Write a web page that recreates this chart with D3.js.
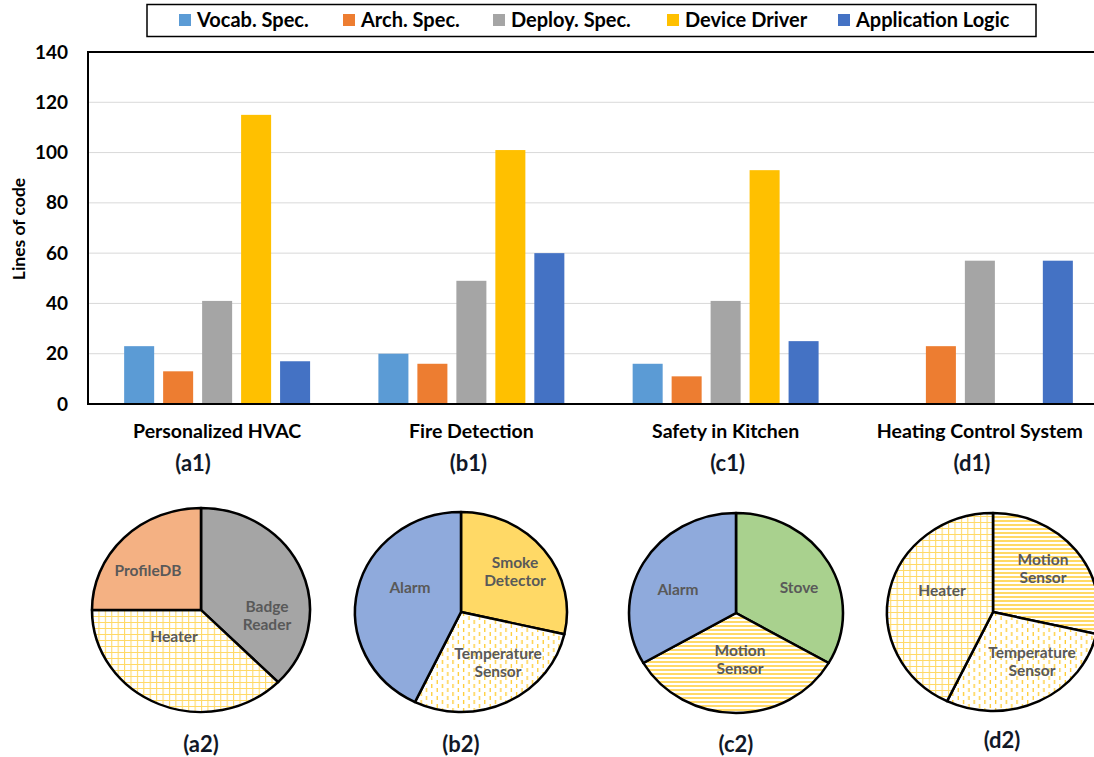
<!DOCTYPE html>
<html><head><meta charset="utf-8">
<script src="https://cdn.jsdelivr.net/npm/d3@7"></script>
<style>
html,body{margin:0;padding:0;background:#fff;}
svg{display:block;font-family:Lato,"Open Sans",sans-serif;}
</style></head>
<body>
<svg id="c" width="1094" height="757"></svg>
<script>
// ---- data ----
const categories = ["Personalized HVAC", "Fire Detection", "Safety in Kitchen", "Heating Control System"];
const categoryTags = ["(a1)", "(b1)", "(c1)", "(d1)"];
const seriesNames = ["Vocab. Spec.", "Arch. Spec.", "Deploy. Spec.", "Device Driver", "Application Logic"];
const vocabSpec = [23, 20, 16, 0];
const archSpec = [13, 16, 11, 23];
const deploySpec = [41, 49, 41, 57];
const deviceDriver = [115, 101, 93, 0];
const applicationLogic = [17, 60, 25, 57];
const yTicks = [0, 20, 40, 60, 80, 100, 120, 140];

const pieTags = ["(a2)", "(b2)", "(c2)", "(d2)"];
const pieA2Labels = ["Badge Reader", "Heater", "ProfileDB"];
const pieA2Values = [3, 3, 2];
const pieB2Labels = ["Smoke Detector", "Temperature Sensor", "Alarm"];
const pieB2Values = [2, 2, 3];
const pieC2Labels = ["Stove", "Motion Sensor", "Alarm"];
const pieC2Values = [1, 1, 1];
const pieD2Labels = ["Motion Sensor", "Temperature Sensor", "Heater"];
const pieD2Values = [2, 2, 3];

// ---- styles ----
const seriesColors = ["#5b9bd5", "#ed7d31", "#a5a5a5", "#ffc000", "#4472c4"];
const sliceFill = {
  "Badge Reader": "#a5a5a5", "ProfileDB": "#f4b183", "Heater": "url(#grid)",
  "Smoke Detector": "#ffd966", "Temperature Sensor": "url(#vdash)", "Alarm": "#8faadc",
  "Stove": "#a9d18e", "Motion Sensor": "url(#hstripe)"
};

const svg = d3.select("#c");
const defs = svg.append("defs");
const pg = defs.append("pattern").attr("id", "grid").attr("patternUnits", "userSpaceOnUse").attr("width", 6).attr("height", 6);
pg.append("rect").attr("width", 6).attr("height", 6).attr("fill", "#fff");
pg.append("path").attr("d", "M0 0.5H6M0.5 0V6").attr("stroke", "#ffd966").attr("stroke-width", 1);
const ph = defs.append("pattern").attr("id", "hstripe").attr("patternUnits", "userSpaceOnUse").attr("width", 4).attr("height", 4);
ph.append("rect").attr("width", 4).attr("height", 4).attr("fill", "#fff");
ph.append("rect").attr("width", 4).attr("height", 2).attr("fill", "#ffd966");
const pv = defs.append("pattern").attr("id", "vdash").attr("patternUnits", "userSpaceOnUse").attr("width", 10).attr("height", 8);
pv.append("rect").attr("width", 10).attr("height", 8).attr("fill", "#fff");
pv.append("path").attr("d", "M2.5 0V4M7.5 4V8").attr("stroke", "#ffc000").attr("stroke-width", 1);

// ---- bar chart ----
const plot = {left: 88, top: 52, bottom: 404, right: 1094};
const y = d3.scaleLinear().domain([0, 140]).range([plot.bottom, plot.top]);
const x0 = d3.scaleBand().domain(categories).range([90, 1107]).paddingInner(0).paddingOuter(0);
const x1 = d3.scaleBand().domain(seriesNames).range([0, x0.bandwidth()]).paddingInner(0.23).paddingOuter(0.876);

svg.append("g").selectAll("line").data(yTicks.filter(t => t > 0 && t < 140)).join("line")
  .attr("x1", plot.left).attr("x2", plot.right)
  .attr("y1", d => y(d)).attr("y2", d => y(d))
  .attr("stroke", "#d9d9d9").attr("stroke-width", 1);

const seriesData = [vocabSpec, archSpec, deploySpec, deviceDriver, applicationLogic];
const gBars = svg.append("g");
categories.forEach((cat, i) => {
  seriesNames.forEach((s, j) => {
    const v = seriesData[j][i];
    if (v <= 0) return;
    gBars.append("rect")
      .attr("x", x0(cat) + x1(s)).attr("width", x1.bandwidth())
      .attr("y", y(v)).attr("height", y(0) - y(v))
      .attr("fill", seriesColors[j]);
  });
});

svg.append("path").attr("d", `M${plot.right},${plot.top}H${plot.left}V${plot.bottom}H${plot.right}`)
  .attr("fill", "none").attr("stroke", "#000").attr("stroke-width", 2);

const yAxis = d3.axisLeft(y).tickValues(yTicks).tickSize(0).tickPadding(20);
const ya = svg.append("g").attr("transform", `translate(${plot.left},0)`).call(yAxis);
ya.select(".domain").remove();
ya.selectAll("text").attr("font-size", 19).attr("font-weight", "bold").attr("fill", "#000")
  .attr("font-family", "Lato, sans-serif");

svg.append("text").attr("transform", "translate(25,229) rotate(-90)")
  .attr("text-anchor", "middle").attr("font-size", 17.5).attr("font-weight", "bold").text("Lines of code");

const xAxis = d3.axisBottom(x0).tickSize(0).tickPadding(20);
const xa = svg.append("g").attr("transform", `translate(0,${plot.bottom})`).call(xAxis);
xa.select(".domain").remove();
xa.selectAll("text").attr("font-size", 19.5).attr("font-weight", "bold").attr("fill", "#000")
  .attr("font-family", "Lato, sans-serif");
const tagShift = [-24, -3, 2, -8];
svg.append("g").selectAll("text").data(categories).join("text")
  .attr("x", (d, i) => x0(d) + x0.bandwidth() / 2 + tagShift[i]).attr("y", 471)
  .attr("text-anchor", "middle").attr("font-size", 22).attr("font-weight", "bold").attr("fill", "#111827")
  .text((d, i) => categoryTags[i]);

// legend
const lg = svg.append("g");
lg.append("rect").attr("x", 147).attr("y", 4.5).attr("width", 889).attr("height", 32)
  .attr("fill", "#fff").attr("stroke", "#000").attr("stroke-width", 1.5);
const legendX = [179, 343, 493, 667, 838];
seriesNames.forEach((s, j) => {
  lg.append("rect").attr("x", legendX[j]).attr("y", 14).attr("width", 12).attr("height", 12).attr("fill", seriesColors[j]);
  lg.append("text").attr("x", legendX[j] + 18).attr("y", 27).attr("font-size", 20).attr("font-weight", "bold").text(s);
});

// ---- pies ----
const pies = [
  {labels: pieA2Labels, values: pieA2Values, cx: 201, cy: 610, rx: 109, ry: 102,
   lab: [[66, 6, 18], [-27, 27], [-53, -39]], tag: [201, 752]},
  {labels: pieB2Labels, values: pieB2Values, cx: 461, cy: 612, rx: 106, ry: 100,
   lab: [[54, -40, 18], [37, 51, 18], [-51, -24]], tag: [461, 752]},
  {labels: pieC2Labels, values: pieC2Values, cx: 736, cy: 613, rx: 107, ry: 100,
   lab: [[63, -25], [4, 47, 18], [-58, -23]], tag: [736, 752]},
  {labels: pieD2Labels, values: pieD2Values, cx: 993, cy: 612, rx: 106, ry: 99,
   lab: [[50, -43, 18], [39, 50, 18], [-51, -21]], tag: [1002, 748]}
];
const pieGen = d3.pie().sort(null).value(d => d);
pies.forEach((p, k) => {
  const g = svg.append("g").attr("transform", `translate(${p.cx},${p.cy}) scale(${p.rx / p.ry},1)`);
  const arc = d3.arc().innerRadius(0).outerRadius(p.ry);
  g.selectAll("path").data(pieGen(p.values)).join("path")
    .attr("d", arc).attr("fill", (d, i) => sliceFill[p.labels[i]])
    .attr("stroke", "#000").attr("stroke-width", 2.4).attr("stroke-linejoin", "round");
  p.labels.forEach((lab, i) => {
    const pos = p.lab[i];
    const words = lab.split(" ");
    const lines = pos.length > 2 ? words : [lab];
    const gap = pos[2] || 0;
    lines.forEach((w, li) => {
      svg.append("text").attr("x", p.cx + pos[0]).attr("y", p.cy + pos[1] + 5 + (li - (lines.length - 1) / 2) * gap)
        .attr("text-anchor", "middle").attr("font-size", 15.5).attr("font-weight", "bold").attr("fill", "#595959")
        .text(w);
    });
  });
  svg.append("text").attr("x", p.tag[0]).attr("y", p.tag[1]).attr("text-anchor", "middle")
    .attr("font-size", 22).attr("font-weight", "bold").attr("fill", "#111827").text(pieTags[k]);
});
</script>
</body></html>
